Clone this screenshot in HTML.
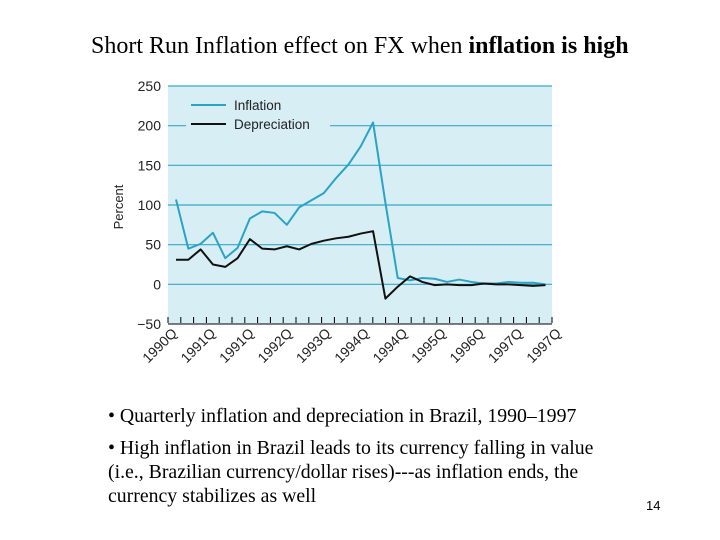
<!DOCTYPE html>
<html><head><meta charset="utf-8"><style>
body{margin:0;width:720px;height:540px;background:#fff;overflow:hidden;position:relative;font-family:"Liberation Serif",serif;}
.t{position:absolute;white-space:nowrap;color:#000;}
</style></head><body>
<div class="t" style="left:91px;top:31px;font-size:24px;line-height:30px;">Short Run Inflation effect on FX when <b>inflation is high</b></div>
<svg id="chart" width="720" height="400" style="position:absolute;left:0;top:0" font-family="Liberation Sans, sans-serif"></svg>
<div class="t" style="left:108px;top:405px;font-size:19.8px;">• Quarterly inflation and depreciation in Brazil, 1990–1997</div>
<div class="t" style="left:108px;top:436px;font-size:19.8px;line-height:24px;white-space:normal;width:500px;">• High inflation in Brazil leads to its currency falling in value (i.e., Brazilian currency/dollar rises)---as inflation ends, the currency stabilizes as well</div>
<div class="t" style="left:646px;top:498px;font-size:13px;font-family:'Liberation Sans',sans-serif;">14</div>
<script>
const yTicks=[250,200,150,100,50,0,-50];
const xLabels=["1990Q","1991Q","1991Q","1992Q","1993Q","1994Q","1994Q","1995Q","1996Q","1997Q","1997Q"];
const inflation=[107,45,51,65,33,46,83,92,90,75,97,106,115,134,151,174,204,103,8,5,8,7,3,6,3,1,1,3,2,2,0];
const depreciation=[31,31,44,25,22,33,57,45,44,48,44,51,55,58,60,64,67,-18,-3,10,3,-1,0,-1,-1,1,0,0,-1,-2,-1];
const NS="http://www.w3.org/2000/svg",svg=document.getElementById('chart');
const L=168,R=552,T=86,B=324,ymin=-50,ymax=250;
const y=v=>B-(v-ymin)/(ymax-ymin)*(B-T);
const x=i=>176+i*(545.5-176)/(inflation.length-1);
function mk(tag,at){const e=document.createElementNS(NS,tag);for(const k in at)e.setAttribute(k,at[k]);svg.appendChild(e);return e;}
let e=mk('rect',{x:L,y:T,width:R-L,height:B-T,fill:'#d7eef5'});


yTicks.forEach(v=>{
 if(v>ymin){const g=mk('line',{x1:L,x2:R,y1:y(v),y2:y(v),stroke:'#3aa7c4','stroke-width':1.2});
 
 }
 const t=mk('text',{x:161,y:y(v)+5,'text-anchor':'end','font-size':14,fill:'#222'});t.textContent=v<0?'\u2212'+(-v):v;
 
 
});
e=mk('line',{x1:L,x2:R,y1:B,y2:B,stroke:'#000','stroke-width':1});


const nT=30;
for(let k=0;k<=nT;k++){const xx=L+k*(R-L)/nT;const tk=mk('line',{x1:xx,x2:xx,y1:B-1,y2:B-7,stroke:'#000','stroke-width':1});
 
 }
xLabels.forEach((s,j)=>{const xx=L+j*3*(R-L)/nT+10;const t=mk('text',{x:xx,y:B+10,'text-anchor':'end','font-size':14,fill:'#222',transform:`rotate(-45 ${xx} ${B+10})`});t.textContent=s;
 
 });
const yl=mk('text',{x:123,y:207,'text-anchor':'middle','font-size':13,fill:'#222',transform:'rotate(-90 123 207)'});yl.textContent='Percent';


e=mk('rect',{x:186,y:96,width:144,height:36,fill:'#d7eef5'});


function series(arr,col,name){const p=mk('polyline',{points:arr.map((v,i)=>x(i)+','+y(v)).join(' '),fill:'none',stroke:col,'stroke-width':2,'stroke-linejoin':'round'});
 
 }
series(inflation,'#2aa3c5','inflation-line');
series(depreciation,'#111','depreciation-line');
[['Inflation','#2aa3c5',105],['Depreciation','#111',124]].forEach(([n,c,yy])=>{
 const l=mk('line',{x1:191,x2:226,y1:yy,y2:yy,stroke:c,'stroke-width':2});
 
 
 const t=mk('text',{x:234,y:yy+5,'font-size':13.5,fill:'#222'});t.textContent=n;
 
 
});
</script>
</body></html>
